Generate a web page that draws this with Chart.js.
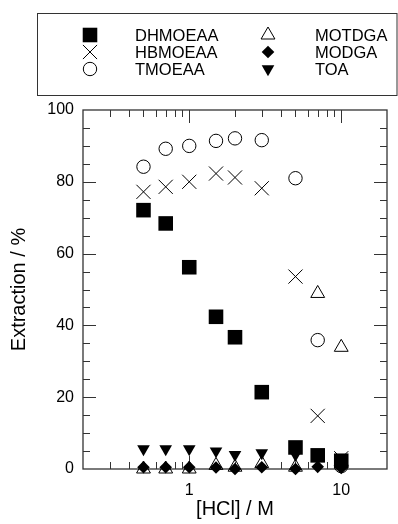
<!DOCTYPE html>
<html lang="en">
<head>
<meta charset="UTF-8">
<title>Extraction vs HCl</title>
<script src="https://cdn.jsdelivr.net/npm/chart.js"></script>
<style>
  html, body { margin: 0; padding: 0; background: #fff; }
  #wrap { width: 398px; height: 524px; }
</style>
</head>
<body>
<div id="wrap"><canvas id="chart"></canvas></div>
<script>
  // [HCl] in M
  const hcl = [0.5, 0.7, 1, 1.5, 2, 3, 5, 7, 10];

  // extraction / %
  const dhmoeaa = [72.1, 68.4, 56.2, 42.4, 36.7, 21.4, 6.0, 3.8, 2.3];
  const hbmoeaa = [77.2, 78.6, 80.0, 82.3, 81.2, 78.2, 53.6, 14.8, 3.0];
  const tmoeaa  = [84.2, 89.2, 90.0, 91.4, 92.1, 91.6, 81.0, 35.9, 0.8];
  const motdga  = [0.0, 0.0, 0.0, 1.0, 0.5, 1.5, 0.5, 48.9, 33.9];
  const modga   = [0.5, 0.5, 0.5, 0.4, 0.0, 0.5, 0.0, 0.6, 0.3];
  const toa     = [5.6, 5.6, 5.6, 5.0, 4.0, 4.5, 4.0, 3.0, 3.0];

  const xTickLabels = [1, 10];
  const yTickLabels = [0, 20, 40, 60, 80, 100];

  const FONT = "'Liberation Sans', Arial, sans-serif";

  function pts(ys) {
    return hcl.map((x, i) => ({ x: x, y: ys[i] }));
  }

  function series(label, ys, style, radius, filled, rotation) {
    return {
      label: label,
      data: pts(ys),
      showLine: false,
      clip: false,
      pointStyle: style,
      pointRadius: radius,
      pointHoverRadius: radius,
      pointRotation: rotation || 0,
      pointBackgroundColor: filled ? '#000' : 'rgba(0,0,0,0)',
      pointBorderColor: '#000',
      pointBorderWidth: filled ? 0 : 1
    };
  }

  const datasets = [
    series('DHMOEAA', dhmoeaa, 'rect', 10.3, true),
    series('HBMOEAA', hbmoeaa, 'crossRot', 10, false),
    series('TMOEAA', tmoeaa, 'circle', 6.7, false),
    series('MOTDGA', motdga, 'triangle', 8, false),
    series('MODGA', modga, 'rectRot', 6.3, true),
    series('TOA', toa, 'triangle', 7.3, true, 180)
  ];

  // minor ticks for the log axis: 2..9 in every decade
  function logMinor(min, max) {
    const out = [];
    for (let d = Math.floor(Math.log10(min)); d <= Math.ceil(Math.log10(max)); d++) {
      for (let m = 2; m <= 9; m++) {
        const v = m * Math.pow(10, d);
        if (v > min && v < max) out.push(v);
      }
    }
    return out;
  }

  // frame with inward ticks on all four sides
  const frameTicks = {
    id: 'frameTicks',
    beforeDatasetsDraw(chart) {
      const { ctx, chartArea: a, scales: { x, y } } = chart;
      ctx.save();
      ctx.strokeStyle = '#333';
      ctx.lineWidth = 1.3;
      ctx.strokeRect(a.left, a.top, a.right - a.left, a.bottom - a.top);
      ctx.lineWidth = 1;
      ctx.beginPath();
      for (let v = 5; v < 100; v += 5) {
        const py = Math.round(y.getPixelForValue(v)) + 0.5;
        const len = v % 20 === 0 ? 13 : 7;
        ctx.moveTo(a.left, py); ctx.lineTo(a.left + len, py);
        ctx.moveTo(a.right, py); ctx.lineTo(a.right - len, py);
      }
      const xs = logMinor(x.min, x.max).map(v => [v, 7]).concat(xTickLabels.map(v => [v, 13]));
      xs.forEach(([v, len]) => {
        const px = Math.round(x.getPixelForValue(v)) + 0.5;
        ctx.moveTo(px, a.bottom); ctx.lineTo(px, a.bottom - len);
        ctx.moveTo(px, a.top); ctx.lineTo(px, a.top + len);
      });
      ctx.stroke();
      ctx.restore();
    }
  };

  // boxed legend, two columns of three
  const boxLegend = {
    id: 'boxLegend',
    afterDraw(chart) {
      const ctx = chart.ctx;
      ctx.save();
      ctx.strokeStyle = '#333';
      ctx.lineWidth = 1;
      ctx.strokeRect(37.5, 13.5, 359.5, 82);
      ctx.font = '16.5px ' + FONT;
      ctx.textBaseline = 'middle';
      ctx.textAlign = 'left';
      const cols = [[90, 135], [268, 315]];
      const rows = [35, 52, 69];
      chart.data.datasets.forEach((ds, i) => {
        const [mx, tx] = cols[Math.floor(i / 3)];
        const ry = rows[i % 3];
        ctx.fillStyle = ds.pointBackgroundColor;
        ctx.strokeStyle = ds.pointBorderColor;
        ctx.lineWidth = ds.pointBorderWidth;
        Chart.helpers.drawPoint(ctx, {
          pointStyle: ds.pointStyle,
          rotation: ds.pointRotation,
          radius: ds.pointRadius,
          borderWidth: ds.pointBorderWidth
        }, mx, ry);
        ctx.fillStyle = '#000';
        ctx.fillText(ds.label, tx, ry + 1);
      });
      ctx.restore();
    }
  };

  new Chart(document.getElementById('chart'), {
    type: 'scatter',
    data: { datasets: datasets },
    plugins: [frameTicks, boxLegend],
    options: {
      responsive: true,
      maintainAspectRatio: false,
      animation: false,
      layout: { padding: { top: 110, right: 11, bottom: 0, left: 0 } },
      plugins: {
        legend: { display: false },
        tooltip: { enabled: false }
      },
      scales: {
        x: {
          type: 'logarithmic',
          min: 0.2,
          max: 20,
          grid: { display: false, drawTicks: false },
          border: { display: false },
          afterBuildTicks: s => { s.ticks = xTickLabels.map(v => ({ value: v })); },
          afterFit: s => { s.height = 55; },
          ticks: {
            autoSkip: false,
            maxRotation: 0,
            padding: 12,
            color: '#000',
            font: { family: FONT, size: 16 },
            callback: v => String(v)
          },
          title: {
            display: true,
            text: '[HCl] / M',
            color: '#000',
            font: { family: FONT, size: 20 },
            padding: { top: 0, bottom: 3 }
          }
        },
        y: {
          min: 0,
          max: 100,
          grid: { display: false, drawTicks: false },
          border: { display: false },
          afterBuildTicks: s => { s.ticks = yTickLabels.map(v => ({ value: v })); },
          afterFit: s => { s.width = 83; },
          ticks: {
            padding: 9,
            color: '#000',
            font: { family: FONT, size: 16 }
          },
          title: {
            display: true,
            text: 'Extraction / %',
            color: '#000',
            font: { family: FONT, size: 20 },
            padding: { top: 7, bottom: 0 }
          }
        }
      }
    }
  });
</script>
</body>
</html>
